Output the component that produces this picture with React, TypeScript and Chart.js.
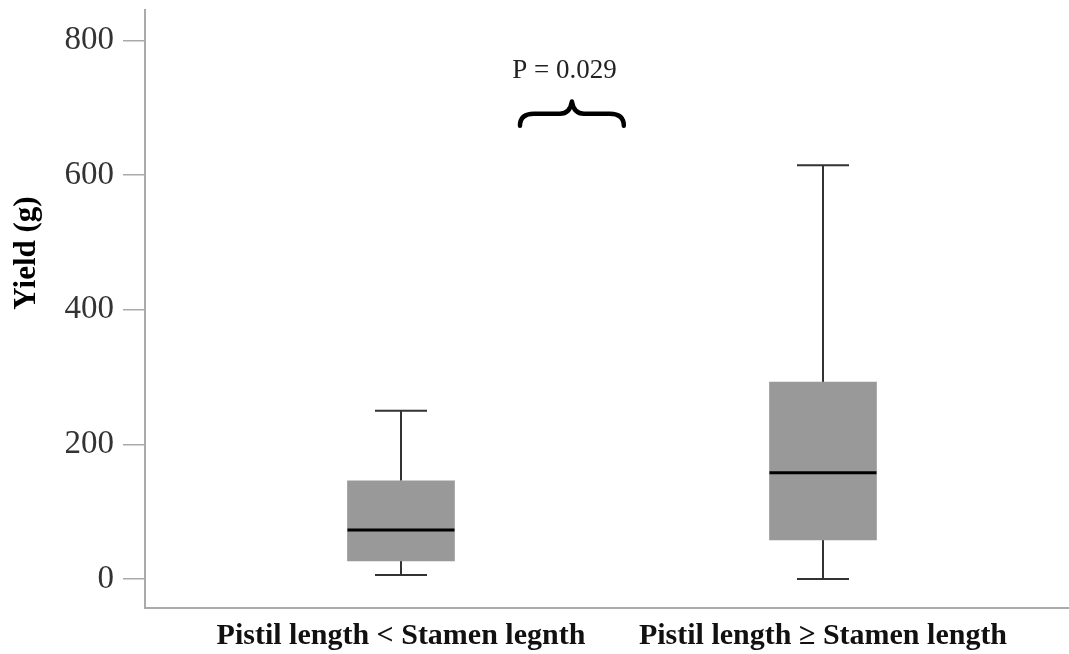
import React, { useEffect, useRef } from "react";
import { Chart, registerables } from "chart.js";

Chart.register(...registerables);

// ---- data ----
const categories = ["Pistil length < Stamen legnth", "Pistil length \u2265 Stamen length"];
const xPositions = [1, 2];
const whiskerLow = [6, 0];
const q1 = [27, 58];
const medians = [73, 158];
const q3 = [146, 292.5];
const whiskerHigh = [250, 614.6];
const yTickValues = [0, 200, 400, 600, 800];
const yTitle = "Yield (g)";
const pText = "P = 0.029";
const pTextX = 1.3875;
const pTextY = 754;
const braceX = 1.405;
const braceTop = 709;
const braceBottom = 673;
const braceHalfWidth = 0.123;

const boxPlugin = {
  id: "boxWhiskers",
  beforeDatasetsDraw(chart: any) {
    const { ctx, scales } = chart;
    const xs = scales.x, ys = scales.y;
    ctx.save();
    ctx.strokeStyle = "#333333";
    ctx.lineWidth = 2;
    for (let i = 0; i < xPositions.length; i++) {
      const cx = Math.round(xs.getPixelForValue(xPositions[i]));
      const capHalf = 26;
      const yLo = ys.getPixelForValue(whiskerLow[i]);
      const yQ1 = ys.getPixelForValue(q1[i]);
      const yQ3 = ys.getPixelForValue(q3[i]);
      const yHi = ys.getPixelForValue(whiskerHigh[i]);
      ctx.beginPath();
      ctx.moveTo(cx, yHi); ctx.lineTo(cx, yQ3);
      ctx.moveTo(cx, yQ1); ctx.lineTo(cx, yLo);
      ctx.moveTo(cx - capHalf, yHi); ctx.lineTo(cx + capHalf, yHi);
      ctx.moveTo(cx - capHalf, yLo); ctx.lineTo(cx + capHalf, yLo);
      ctx.stroke();
    }
    ctx.restore();
  },
  afterDatasetsDraw(chart: any) {
    const { ctx, scales } = chart;
    const xs = scales.x, ys = scales.y;
    ctx.save();
    ctx.strokeStyle = "#000000";
    ctx.lineWidth = 3;
    for (let i = 0; i < xPositions.length; i++) {
      const cx = xs.getPixelForValue(xPositions[i]);
      const ym = ys.getPixelForValue(medians[i]);
      ctx.beginPath();
      ctx.moveTo(cx - 53.5, ym); ctx.lineTo(cx + 53.5, ym);
      ctx.stroke();
    }
    // annotation
    const C = xs.getPixelForValue(braceX);
    const L = xs.getPixelForValue(braceX - braceHalfWidth);
    const R = xs.getPixelForValue(braceX + braceHalfWidth);
    const T = ys.getPixelForValue(braceTop);
    const B = ys.getPixelForValue(braceBottom);
    const M = (T + B) / 2;
    ctx.lineWidth = 4.5;
    ctx.lineCap = "round";
    ctx.lineJoin = "round";
    ctx.beginPath();
    ctx.moveTo(L, B);
    ctx.quadraticCurveTo(L, M, L + 14, M);
    ctx.lineTo(C - 12, M);
    ctx.quadraticCurveTo(C - 2, M, C, T);
    ctx.quadraticCurveTo(C + 2, M, C + 12, M);
    ctx.lineTo(R - 14, M);
    ctx.quadraticCurveTo(R, M, R, B);
    ctx.stroke();
    ctx.fillStyle = "#222222";
    ctx.font = "27px 'Liberation Serif'";
    ctx.textAlign = "center";
    ctx.textBaseline = "middle";
    ctx.fillText(pText, xs.getPixelForValue(pTextX), ys.getPixelForValue(pTextY));
    // y title
    ctx.save();
    ctx.translate(27, 253);
    ctx.rotate(-Math.PI / 2);
    ctx.font = "bold 31px 'Liberation Serif'";
    ctx.fillStyle = "#000000";
    ctx.fillText(yTitle, 0, 0);
    ctx.restore();
    ctx.restore();
  },
};

export default function App() {
  const ref = useRef<HTMLCanvasElement>(null);
  useEffect(() => {
    if (!ref.current) return;
    const chart = new Chart(ref.current, {
      type: "bar",
      data: {
        datasets: [
          {
            data: xPositions.map((x, i) => ({ x, y: [q1[i], q3[i]] })) as any,
            backgroundColor: "#999999",
            borderWidth: 0,
            barThickness: 107,
          },
        ],
      },
      options: {
        animation: false,
        responsive: false,
        layout: { padding: { left: 0, top: 10, right: 1, bottom: 0 } },
        plugins: { legend: { display: false }, tooltip: { enabled: false } },
        scales: {
          x: {
            type: "linear",
            offset: false,
            min: 0.3934,
            max: 2.5806,
            afterBuildTicks: (s: any) => { s.ticks = xPositions.map((v) => ({ value: v })); },
            afterFit: (s: any) => { s.height = 46; s.paddingLeft = 0; s.paddingRight = 0; },
            grid: { display: false, drawTicks: false, offset: false },
            border: { display: true, color: "#aaaaaa", width: 2 },
            ticks: {
              padding: 10,
              autoSkip: false,
              maxRotation: 0,
              color: "#111111",
              font: { family: "'Liberation Serif'", size: 30, weight: "bold" },
              callback: (v: any) => {
                const idx = xPositions.indexOf(Number(v));
                return idx >= 0 ? categories[idx] : "";
              },
            },
          },
          y: {
            min: -43,
            max: 845,
            afterBuildTicks: (s: any) => { s.ticks = yTickValues.map((v) => ({ value: v })); },
            afterFit: (s: any) => { s.width = 145; s.paddingTop = 0; s.paddingBottom = 0; },
            grid: { drawOnChartArea: false, drawTicks: true, tickLength: 22, color: "#aaaaaa", lineWidth: 1.5 },
            border: { display: true, color: "#aaaaaa", width: 2 },
            ticks: {
              padding: 9,
              color: "#333333",
              font: { family: "'Liberation Serif'", size: 33 },
            },
          },
        },
      },
      plugins: [boxPlugin],
    });
    return () => chart.destroy();
  }, []);
  return (
    <div style={{ position: "absolute", left: 0, top: 0, width: 1069, height: 654, background: "#ffffff" }}>
      <canvas ref={ref} width={1069} height={654} style={{ display: "block" }} />
    </div>
  );
}
